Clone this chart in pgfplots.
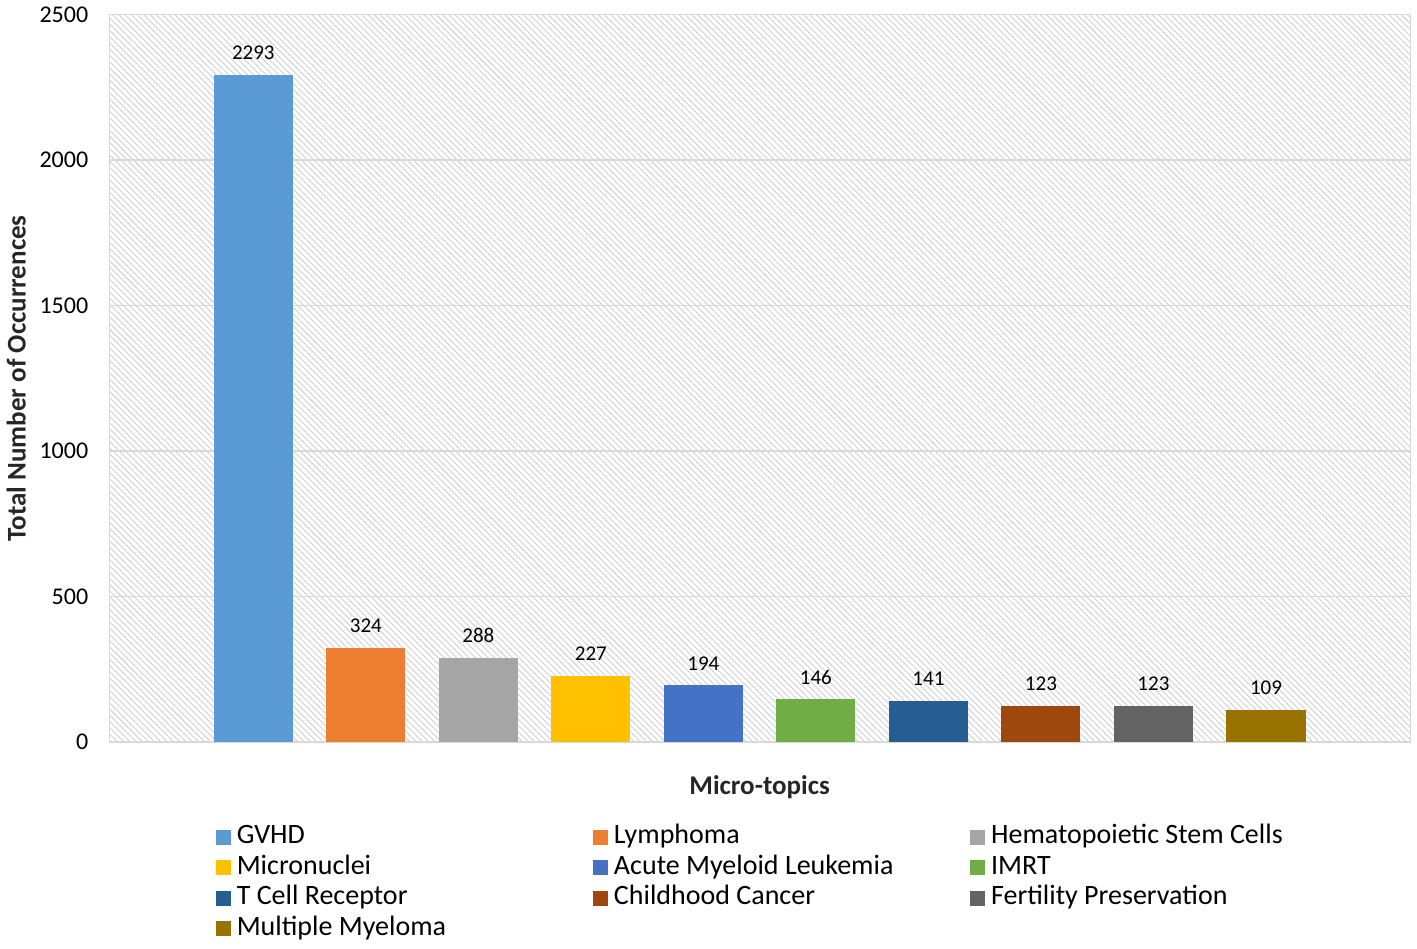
\documentclass[border=0pt]{standalone}
\usepackage{pgfplots}
\pgfplotsset{compat=1.18}
\usepackage{fontspec}
\setmainfont{Carlito}
\usetikzlibrary{patterns.meta}
\definecolor{c1}{HTML}{5B9BD5}
\definecolor{c2}{HTML}{ED7D31}
\definecolor{c3}{HTML}{A5A5A5}
\definecolor{c4}{HTML}{FFC000}
\definecolor{c5}{HTML}{4472C4}
\definecolor{c6}{HTML}{70AD47}
\definecolor{c7}{HTML}{255E91}
\definecolor{c8}{HTML}{9E480E}
\definecolor{c9}{HTML}{636363}
\definecolor{c10}{HTML}{997300}
\definecolor{gridc}{HTML}{D9D9D9}
\definecolor{hatch}{HTML}{D0D0D0}
\definecolor{txt}{HTML}{262626}
\newcommand{\lbox}[1]{\makebox[176.5pt][l]{#1}}
\begin{document}
\begin{tikzpicture}
\begin{axis}[
  name=ax,
  scale only axis,
  width=650pt, height=363.5pt,
  ybar, bar width=39.5pt, bar shift=0pt,
  xmin=-1.28, xmax=10.28,
  ymin=0, ymax=2500,
  ytick={0,500,1000,1500,2000,2500},
  xtick=\empty,
  major tick length=0pt,
  axis line style={gridc},
  ymajorgrids, grid style={gridc, line width=0.6pt},
  axis background/.style={pattern={Lines[angle=-45,distance=2.2pt,line width=0.45pt]}, pattern color=hatch},
  /pgf/number format/assume math mode=true,
  /pgf/number format/1000 sep={},
  yticklabel style={font=\fontsize{12}{14}\selectfont, text=black, xshift=-7pt},
  ylabel={\bfseries Total Number of Occurrences},
  ylabel style={font=\fontsize{13.5}{16}\selectfont, text=txt, yshift=0pt},
  xlabel={\bfseries Micro-topics},
  xlabel style={font=\fontsize{13.5}{16}\selectfont, text=txt, yshift=-13.5pt},
  nodes near coords,
  every node near coord/.append style={font=\fontsize{10.5}{12}\selectfont, text=black, yshift=4pt, /pgf/number format/1000 sep={}},
  legend columns=3,
  legend image code/.code={\fill[#1] (0pt,-3.75pt) rectangle (7.5pt,3.75pt);},
  legend style={draw=none, fill=none, at={(axis description cs:0,0)}, anchor=north west,
    xshift=50pt, yshift=-38pt, font=\fontsize{14}{15}\selectfont,
    column sep=0pt, row sep=0pt,
    nodes={inner sep=1.5pt, text height=9.2pt, text depth=3pt},
    /tikz/every odd column/.style={column sep=1.5pt}},
  legend cell align=left,
]
\addplot[fill=c1, draw=none] coordinates {(0,2293)};
\addplot[fill=c2, draw=none] coordinates {(1,324)};
\addplot[fill=c3, draw=none] coordinates {(2,288)};
\addplot[fill=c4, draw=none] coordinates {(3,227)};
\addplot[fill=c5, draw=none] coordinates {(4,194)};
\addplot[fill=c6, draw=none] coordinates {(5,146)};
\addplot[fill=c7, draw=none] coordinates {(6,141)};
\addplot[fill=c8, draw=none] coordinates {(7,123)};
\addplot[fill=c9, draw=none] coordinates {(8,123)};
\addplot[fill=c10, draw=none] coordinates {(9,109)};
\addlegendentry{\lbox{GVHD}}
\addlegendentry{\lbox{Lymphoma}}
\addlegendentry{\lbox{Hematopoietic Stem Cells}}
\addlegendentry{\lbox{Micronuclei}}
\addlegendentry{\lbox{Acute Myeloid Leukemia}}
\addlegendentry{\lbox{IMRT}}
\addlegendentry{\lbox{T Cell Receptor}}
\addlegendentry{\lbox{Childhood Cancer}}
\addlegendentry{\lbox{Fertility Preservation}}
\addlegendentry{\lbox{Multiple Myeloma}}
\end{axis}
\path ([xshift=3.5pt]ax.north east);
\end{tikzpicture}
\end{document}
